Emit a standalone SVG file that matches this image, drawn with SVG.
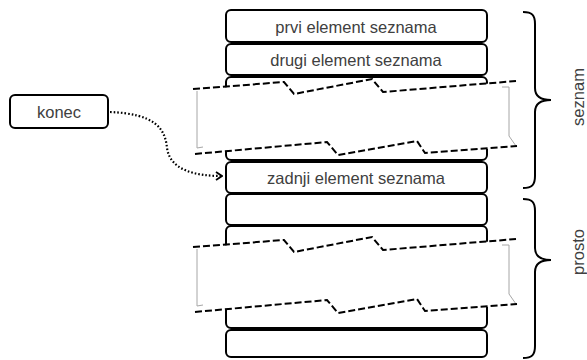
<svg xmlns="http://www.w3.org/2000/svg" width="587" height="360" viewBox="0 0 587 360">
  <style>
    .box { fill: #ffffff; stroke: #000000; stroke-width: 2; }
    .lbl { font-family: "Liberation Sans", Arial, sans-serif; font-size: 16.5px; fill: #404040; text-anchor: middle; }
    .cut { fill: none; stroke: #000000; stroke-width: 2; stroke-dasharray: 7 3; }
    .edge { fill: none; stroke: #a6a6a6; stroke-width: 1; }
    .brace { fill: none; stroke: #000000; stroke-width: 2; }
    .link { fill: none; stroke: #000000; stroke-width: 2.2; stroke-dasharray: 1.6 2; }
  </style>
  <defs>
    <!-- torn band that hides the middle of a long stack -->
    <g id="band">
      <path d="M197,90 L284,82 L294,94 L372,79 L383,92 L509,82 L509,138 L516,147 L425,153 L417,141 L338,155 L327,142 L197,154 Z" fill="#ffffff"/>
      <path class="edge" d="M197,91 L197,148 L203,147"/>
      <path class="edge" d="M502,87 L509,87 L509,136 L516,146"/>
      <path class="cut" d="M193,89 L284,82 L294,94 L372,79 L383,92 L516,81"/>
      <path class="cut" d="M195,154 L327,142 L338,155 L417,141 L425,153 L517,146"/>
    </g>
    <marker id="chev" viewBox="0 0 10 10" refX="9" refY="5" markerWidth="10" markerHeight="10" markerUnits="userSpaceOnUse" orient="auto">
      <path d="M3,1 L9,5 L3,9" fill="none" stroke="#000000" stroke-width="1.8"/>
    </marker>
  </defs>

  <!-- list part -->
  <g id="prvi">
    <rect class="box" x="226" y="10" width="261" height="32" rx="5"/>
    <text class="lbl" x="356" y="32.5">prvi element seznama</text>
  </g>
  <g id="drugi">
    <rect class="box" x="226" y="44" width="261" height="31" rx="5"/>
    <text class="lbl" x="356" y="65.5">drugi element seznama</text>
  </g>
  <g id="vmesni">
    <rect class="box" x="226" y="77" width="261" height="83" rx="5"/>
  </g>
  <use href="#band"/>
  <g id="zadnji">
    <rect class="box" x="226" y="162" width="261" height="31" rx="5"/>
    <text class="lbl" x="356" y="183.5">zadnji element seznama</text>
  </g>

  <!-- free space part -->
  <g id="prosti1">
    <rect class="box" x="226" y="194" width="261" height="31" rx="5"/>
  </g>
  <g id="prosti2">
    <rect class="box" x="226" y="226" width="261" height="102" rx="5"/>
  </g>
  <use href="#band" transform="translate(0,158)"/>
  <g id="prosti3">
    <rect class="box" x="226" y="330" width="261" height="27" rx="5"/>
  </g>

  <!-- pointer to the last element -->
  <g id="konec">
    <rect class="box" x="10" y="95" width="98" height="33" rx="5"/>
    <text class="lbl" x="59" y="117.5">konec</text>
  </g>

  <g id="connectors">
    <path class="link" d="M110,112 C155,114 165,128 167,148 C170,170 195,176 222,176" marker-end="url(#chev)"/>
  </g>

  <!-- braces with labels -->
  <g id="seznam">
    <path class="brace" d="M523,12 C532,12 535,15 535,24 L535,88 C535,96 540,100 551,100 C540,100 535,104 535,112 L535,176 C535,185 532,188 523,188"/>
    <text class="lbl" transform="translate(584,97) rotate(-90)">seznam</text>
  </g>
  <g id="prosto">
    <path class="brace" d="M523,199 C532,199 535,202 535,211 L535,248 C535,256 540,260 551,260 C540,260 535,264 535,272 L535,346 C535,355 532,358 523,358"/>
    <text class="lbl" transform="translate(584,252) rotate(-90)">prosto</text>
  </g>
</svg>
